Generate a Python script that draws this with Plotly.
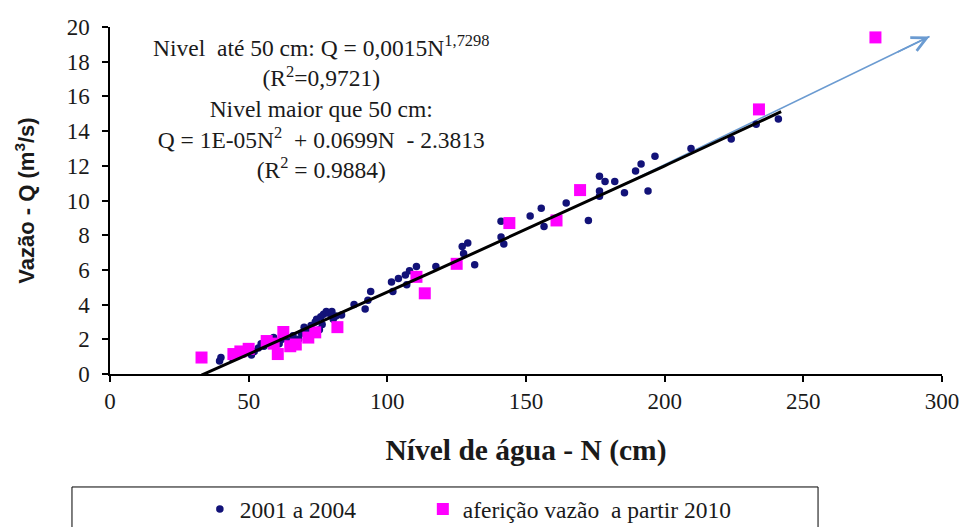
import numpy as np
import plotly.graph_objects as go

# --- data: stage (N, cm) vs discharge (Q, m3/s) ---
n_2001 = [39.5, 40, 44, 48, 51, 52, 53.5, 54.5, 55.5, 57, 59, 61, 62, 64, 66, 68, 69, 70,
          71, 72.5, 74, 74.5, 75.5, 76, 76.5, 77, 78, 79, 80, 80.5, 81.5, 83.5, 88, 92,
          93, 94, 101.5, 102, 104, 106.5, 107, 108, 110.5, 117.5, 127, 127.5, 129, 131.5,
          141, 141, 142, 151.5, 155.5, 156.5, 164.5, 172.5, 176.5, 176.5, 176.5, 178.5,
          182, 185.5, 189.5, 191.5, 194, 196.5, 209.5, 224, 233, 241]
q_2001 = [0.75, 0.95, 0.95, 1.15, 1.1, 1.3, 1.5, 1.75, 1.6, 1.85, 2.1, 1.75, 2.0, 2.1, 2.2,
          2.0, 2.35, 2.7, 2.5, 2.8, 3.0, 3.15, 2.55, 3.3, 2.85, 3.45, 3.6, 3.5, 3.6, 3.15,
          3.35, 3.4, 4.0, 3.75, 4.25, 4.75, 5.3, 4.75, 5.5, 5.7, 5.15, 5.95, 6.2, 6.2, 7.35,
          6.95, 7.55, 6.3, 8.8, 7.9, 7.5, 9.1, 9.55, 8.5, 9.85, 8.85, 11.4, 10.55, 10.25,
          11.1, 11.1, 10.45, 11.7, 12.1, 10.55, 12.55, 13.0, 13.55, 14.4, 14.7]

n_2010 = [33, 44.5, 47, 50, 56.5, 59, 62.5, 60.5, 65, 67, 71.5, 74, 82, 110.5, 113.5, 125,
          144, 161, 169.5, 234, 276]
q_2010 = [0.95, 1.15, 1.3, 1.45, 1.9, 1.75, 2.42, 1.15, 1.6, 1.7, 2.1, 2.4, 2.7, 5.6, 4.65,
          6.35, 8.7, 8.85, 10.6, 15.25, 19.4]

# rating curve for N > 50 cm: Q = a*N^2 + b*N + c
fit_a, fit_b, fit_c = 1e-05, 0.0699, -2.3813
fit_n_range = [33, 242]

# extrapolation arrow (N, Q) endpoints
arrow_n = [180, 295.5]
arrow_q = [10.52, 19.45]

x_ticks = [0, 50, 100, 150, 200, 250, 300]
y_ticks = list(range(0, 21, 2))

serif = "'Liberation Serif', 'Times New Roman', 'DejaVu Serif', serif"
sans = "'Liberation Sans', Arial, sans-serif"
ink = "#1a1a1a"

fit_n = np.linspace(fit_n_range[0], fit_n_range[1], 120)
fit_q = fit_a * fit_n ** 2 + fit_b * fit_n + fit_c

fig = go.Figure()

fig.add_trace(go.Scatter(
    x=arrow_n, y=arrow_q, mode="lines",
    line=dict(color="#6b9bd1", width=1.6),
    showlegend=False, hoverinfo="skip"))

fig.add_trace(go.Scatter(
    x=n_2001, y=q_2001, mode="markers", name="2001 a 2004", legend="legend",
    marker=dict(color="#121278", size=7.5, symbol="circle")))

fig.add_trace(go.Scatter(
    x=n_2010, y=q_2010, mode="markers", name="aferição vazão  a partir 2010",
    legend="legend2",
    marker=dict(color="#ff00ff", size=12, symbol="square")))

fig.add_trace(go.Scatter(
    x=fit_n, y=fit_q, mode="lines",
    line=dict(color="black", width=3),
    showlegend=False, hoverinfo="skip"))

# arrowhead at the end of the extrapolation line
slope = (arrow_q[1] - arrow_q[0]) / (arrow_n[1] - arrow_n[0])
fig.add_annotation(
    x=arrow_n[1], y=arrow_q[1], ax=arrow_n[1] - 12, ay=arrow_q[1] - 12 * slope,
    xref="x", yref="y", axref="x", ayref="y", text="",
    showarrow=True, arrowhead=5, arrowsize=1.8, arrowwidth=1.6,
    arrowcolor="#6b9bd1", standoff=0)

fig.add_annotation(
    x=0.254, y=0.995, xref="paper", yref="paper", xanchor="center", yanchor="top",
    showarrow=False, align="center",
    text=("Nivel  até 50 cm: Q = 0,0015N<sup>1,7298</sup><br>"
          "(R<sup>2</sup>=0,9721)<br>"
          "Nivel maior que 50 cm:<br>"
          "Q = 1E-05N<sup>2</sup>  + 0.0699N  - 2.3813<br>"
          "(R<sup>2</sup> = 0.9884)"),
    font=dict(family=serif, size=23.5, color=ink))

# legend frame
fig.add_shape(type="rect", xref="paper", yref="paper",
              x0=-0.0457, x1=0.851, y0=-0.46, y1=-0.3256,
              line=dict(color="black", width=1), fillcolor="white", layer="below")

legend_style = dict(orientation="h", xanchor="left", y=-0.326, yanchor="top",
                    font=dict(family=serif, size=23.5, color=ink),
                    bgcolor="rgba(0,0,0,0)", borderwidth=0, itemsizing="trace")

fig.update_layout(
    width=964, height=527,
    margin=dict(l=110, r=22, t=27, b=153, autoexpand=False),
    paper_bgcolor="white", plot_bgcolor="white",
    font=dict(family=serif, color=ink),
    legend=dict(x=0.108, **legend_style),
    legend2=dict(x=0.376, **legend_style),
    xaxis=dict(range=[0, 300], tickvals=x_ticks, showgrid=False, zeroline=False,
               showline=True, linecolor="black", linewidth=1.5, automargin=False,
               ticks="outside", ticklen=6, tickcolor="black", tickwidth=1.5,
               tickfont=dict(family=serif, size=23, color=ink),
               title=dict(text="<b>Nível de água - N (cm)</b>", standoff=26,
                          font=dict(family=serif, size=29.5, color=ink))),
    yaxis=dict(range=[0, 20], tickvals=y_ticks, showgrid=False, zeroline=False,
               showline=True, linecolor="black", linewidth=1.5, automargin=False,
               ticks="outside", ticklen=6, tickcolor="black", tickwidth=1.5,
               ticklabelstandoff=8,
               tickfont=dict(family=serif, size=23, color=ink),
               title=dict(text="<b>Vazão - Q (m<sup>3</sup>/s)</b>", standoff=26,
                          font=dict(family=sans, size=22, color=ink))),
)

fig.write_html("out.html")
